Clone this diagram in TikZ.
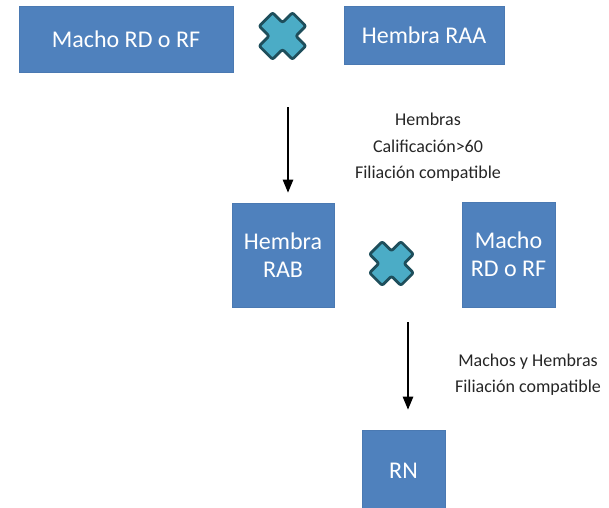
\documentclass[tikz,border=0pt]{standalone}
\usepackage{fontspec}
\setmainfont{Carlito}
\usetikzlibrary{arrows.meta}

\definecolor{azulcaja}{HTML}{4F81BD}
\definecolor{bordecaja}{HTML}{4A79B2}
\definecolor{turquesa}{HTML}{4BACC6}
\definecolor{bordecruz}{HTML}{1E4E5B}

\tikzset{
  caja/.style={rectangle, fill=azulcaja, draw=bordecaja, line width=0.8pt, text=white,
    inner sep=0pt, align=center, font=\fontsize{24}{28}\selectfont},
  nota/.style={align=center, inner sep=0pt, text=black!85, font=\fontsize{18}{26.5}\selectfont},
  flecha/.style={-{Triangle[width=10.5pt,length=13pt]}, line width=1.2pt},
  cruzsty/.style={fill=turquesa, draw=bordecruz, line width=2.8pt, rounded corners=2pt, line join=round},
}

% aspa de cruzamiento: #1 centro, #2 escala
\newcommand{\cruz}[2]{%
  \draw[cruzsty, shift={#1}, rotate=45, scale=#2]
    (9.5,23.5) -- (9.5,9.5) -- (23.5,9.5) -- (23.5,-9.5) -- (9.5,-9.5) -- (9.5,-23.5)
    -- (-9.5,-23.5) -- (-9.5,-9.5) -- (-23.5,-9.5) -- (-23.5,9.5) -- (-9.5,9.5) -- (-9.5,23.5) -- cycle;}

\begin{document}
\begin{tikzpicture}[x=1pt, y=-1pt]

\fill[white] (0,0) rectangle (609,507);
\useasboundingbox (0,0) rectangle (609,507);

% primer cruzamiento
\node[caja, minimum width=214pt, minimum height=66pt] (macho1) at (126,39) {Macho RD o RF};
\node[caja, minimum width=160pt, minimum height=58pt] (hembraRAA) at (424,35) {Hembra RAA};
\cruz{(282.5,36)}{1}

\coordinate (ini1) at (288,107);
\node[nota] (sel1) at (428,147.5) {Hembras\\Calificación>60\\Filiación compatible};

% segundo cruzamiento
\node[caja, minimum width=102pt, minimum height=104pt] (hembraRAB) at (283,255) {Hembra\\RAB};
\node[caja, minimum width=93pt, minimum height=105pt] (macho2) at (508.5,254.5) {Macho\\RD o RF};
\cruz{(391.5,263.5)}{0.94}

\coordinate (ini2) at (408,322);
\node[nota] (sel2) at (528,374.5) {Machos y Hembras\\Filiación compatible};

\node[caja, minimum width=83pt, minimum height=82pt] (rn) at (403.5,471) {RN};

\begin{scope}[flecha]
\draw[shorten >=10pt] (ini1) -- (ini1 |- hembraRAB.north);
\draw[shorten >=20pt] (ini2) -- (ini2 |- rn.north);
\end{scope}

\end{tikzpicture}
\end{document}
